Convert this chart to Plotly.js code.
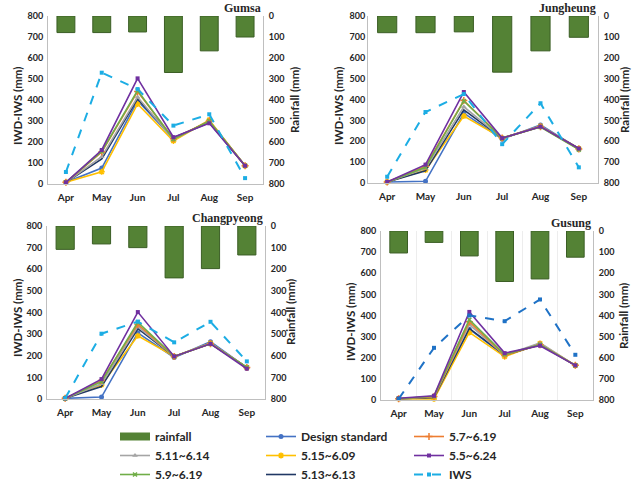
<!DOCTYPE html>
<html>
<head>
<meta charset="utf-8">
<script src="https://cdn.plot.ly/plotly-3.0.1.min.js"></script>
<style>html,body{margin:0;padding:0;background:#fff;}#chart{width:643px;height:492px;}</style>
</head>
<body>
<div id="chart"></div>
<script>
// ---------------- DATA ----------------
const months = ['Apr', 'May', 'Jun', 'Jul', 'Aug', 'Sep'];
const stations = ['Gumsa', 'Jungheung', 'Changpyeong', 'Gusung'];
const seriesNames = ['Design standard', '5.7~6.19', '5.11~6.14', '5.15~6.09', '5.5~6.24', '5.9~6.19', '5.13~6.13', 'IWS'];

// Gumsa
const gumsaRain   = [79, 79, 76, 269, 166, 100];
const gumsaDesign = [8, 76, 397, 215, 298, 87];
const gumsa57     = [8, 152, 440, 216, 300, 87];
const gumsa511    = [8, 130, 414, 212, 300, 87];
const gumsa515    = [8, 58, 381, 205, 305, 87];
const gumsa55     = [8, 162, 503, 223, 289, 87];
const gumsa59     = [8, 155, 445, 213, 300, 87];
const gumsa513    = [8, 119, 405, 220, 293, 87];
const gumsaIWS    = [57, 530, 452, 278, 332, 28];

// Jungheung
const jungRain   = [80, 80, 76, 269, 167, 102];
const jungDesign = [5, 8, 335, 210, 278, 165];
const jung57     = [5, 80, 395, 215, 270, 163];
const jung511    = [5, 70, 365, 215, 272, 163];
const jung515    = [5, 62, 321, 215, 272, 165];
const jung55     = [5, 88, 436, 215, 270, 165];
const jung59     = [5, 75, 393, 215, 268, 160];
const jung513    = [5, 58, 350, 215, 270, 165];
const jungIWS    = [30, 340, 426, 186, 382, 75];

// Changpyeong
const changRain   = [108, 83, 100, 240, 197, 134];
const changDesign = [3, 9, 306, 192, 265, 145];
const chang57     = [3, 85, 345, 197, 256, 146];
const chang511    = [3, 70, 335, 197, 258, 146];
const chang515    = [3, 65, 292, 197, 258, 145];
const chang55     = [3, 92, 402, 197, 255, 140];
const chang59     = [3, 80, 355, 197, 255, 147];
const chang513    = [3, 58, 325, 197, 256, 146];
const changIWS    = [3, 302, 358, 262, 357, 174];

// Gusung
const gusRain   = [104, 54, 118, 239, 227, 124];
const gusDesign = [6, 8, 335, 210, 265, 164];
const gus57     = [6, 16, 370, 212, 262, 164];
const gus511    = [6, 15, 357, 212, 270, 164];
const gus515    = [6, 5, 320, 205, 268, 164];
const gus55     = [8, 20, 417, 222, 257, 164];
const gus59     = [6, 18, 380, 215, 262, 164];
const gus513    = [6, 12, 339, 212, 262, 164];
const gusIWS    = [5, 247, 400, 373, 476, 214];

const leftTicks = [0, 100, 200, 300, 400, 500, 600, 700, 800];

// -------------- STYLE / LAYOUT --------------
const W = 643, H = 492;
const px = v => v / W;
const py = v => 1 - v / H;
const FONT = 'Lato, "Open Sans", sans-serif';

const stationData = [
  {rain: gumsaRain, s: [gumsaDesign, gumsa57, gumsa511, gumsa515, gumsa55, gumsa59, gumsa513, gumsaIWS]},
  {rain: jungRain,  s: [jungDesign, jung57, jung511, jung515, jung55, jung59, jung513, jungIWS]},
  {rain: changRain, s: [changDesign, chang57, chang511, chang515, chang55, chang59, chang513, changIWS]},
  {rain: gusRain,   s: [gusDesign, gus57, gus511, gus515, gus55, gus59, gus513, gusIWS]}
];

// panel frames in pixels: [left, right, top, bottom]
const frames = [
  [48, 263, 16, 184],
  [368, 598, 16, 183],
  [47, 265, 226, 399],
  [381, 593, 231, 400]
];

const styles = [
  {color: '#4472C4', symbol: 'circle', size: 5, legend: 'legend2'},          // Design standard
  {color: '#ED7D31', symbol: 'cross-thin', size: 5, legend: 'legend3'},      // 5.7~6.19
  {color: '#A5A5A5', symbol: 'triangle-up', size: 5, legend: 'legend'},      // 5.11~6.14
  {color: '#FFC000', symbol: 'asterisk', size: 5, legend: 'legend2'},        // 5.15~6.09
  {color: '#7030A0', symbol: 'square', size: 4, legend: 'legend3'},          // 5.5~6.24
  {color: '#70AD47', symbol: 'x-thin', size: 4, legend: 'legend'},           // 5.9~6.19
  {color: '#203864', symbol: 'circle', size: 0, legend: 'legend2'},          // 5.13~6.13
  {color: '#1CADE4', symbol: 'square', size: 4, legend: 'legend3'}           // IWS
];
const drawOrder = [0, 3, 6, 2, 1, 5, 4, 7];

const traces = [];
const layout = {
  width: W, height: H,
  margin: {l: 0, r: 0, t: 0, b: 0},
  paper_bgcolor: '#fff', plot_bgcolor: 'rgba(0,0,0,0)',
  font: {family: FONT, color: '#262626'},
  showlegend: true,
  barmode: 'overlay',
  annotations: [],
  shapes: []
};

// legend proxy for the rainfall bars (wide bar swatch); draws no mark
traces.push({
  type: 'scatter', mode: 'lines', x: [null], y: [null],
  name: 'rainfall', legend: 'legend', showlegend: true,
  line: {color: '#548235', width: 8}, hoverinfo: 'skip'
});

stationData.forEach((st, i) => {
  const [l, r, t, b] = frames[i];
  const xa = i === 0 ? 'xaxis' : 'xaxis' + (i + 1);
  const yl = 'yaxis' + (i === 0 ? '' : (2 * i + 1));
  const yr = 'yaxis' + (2 * i + 2);
  const xid = 'x' + (i === 0 ? '' : (i + 1));
  const ylid = 'y' + (i === 0 ? '' : (2 * i + 1));
  const yrid = 'y' + (2 * i + 2);

  layout[xa] = {
    domain: [px(l), px(r)], anchor: ylid,
    type: 'category', categoryorder: 'array', categoryarray: months,
    showline: true, linecolor: '#BFBFBF', linewidth: 1,
    showgrid: i === 3, gridcolor: '#EDEDED', tickson: 'boundaries',
    ticks: '', zeroline: false, ticklabelstandoff: 4,
    tickfont: {family: FONT, size: 10, weight: 700, color: '#262626'}
  };
  layout[yl] = {
    domain: [py(b), py(t)], anchor: xid,
    range: [0, 800], tickvals: leftTicks,
    showline: true, linecolor: '#BFBFBF', linewidth: 1,
    showgrid: false, zeroline: false, ticks: '',
    ticklabelstandoff: i === 1 ? 0 : 2,
    tickfont: {family: FONT, size: 9, weight: 700, color: '#262626'}
  };
  layout[yr] = {
    overlaying: ylid, side: 'right', anchor: xid,
    range: [800, 0], tickvals: leftTicks,
    showline: true, linecolor: '#BFBFBF', linewidth: 1,
    showgrid: false, zeroline: false, ticks: '', ticklabelstandoff: 3,
    tickfont: {family: FONT, size: 9, weight: 700, color: '#262626'}
  };

  traces.push({
    type: 'bar', x: months, y: st.rain, base: 0,
    xaxis: xid, yaxis: yrid, width: 0.5,
    name: 'rainfall', showlegend: false,
    marker: {color: '#548235', line: {color: '#3B5E25', width: 1}},
    hoverinfo: 'skip'
  });

  drawOrder.forEach(k => {
    const s = styles[k];
    const iws = k === 7;
    const col = iws && i === 3 ? '#1F72C6' : s.color;
    traces.push({
      type: 'scatter', mode: s.size ? 'lines+markers' : 'lines',
      x: months, y: st.s[k], xaxis: xid, yaxis: ylid,
      name: seriesNames[k], legend: s.legend, showlegend: i === 0,
      line: {color: col, width: iws ? 2 : 1.6, dash: iws ? 'dash' : 'solid'},
      marker: {color: col, symbol: s.symbol, size: s.size,
               line: {color: col, width: (s.symbol.indexOf('thin') >= 0 || s.symbol === 'asterisk') ? 1.5 : 0}},
      cliponaxis: false, hoverinfo: 'skip'
    });
  });

  layout.annotations.push({
    xref: 'paper', yref: 'paper', x: px(r), y: py(t - 8),
    xanchor: 'right', yanchor: 'middle', showarrow: false,
    text: '<b>' + stations[i] + '</b>',
    font: {family: '"Liberation Serif", "DejaVu Serif", serif', size: 12, color: '#262626'}
  });
});

const axisTitles = [
  [17, 294, 100], [338, 624, 100], [17, 290, 312], [350, 623, 316]
];
axisTitles.forEach(([xl, xr, yc]) => {
  layout.annotations.push({
    xref: 'paper', yref: 'paper', x: px(xl), y: py(yc + 6), textangle: -90,
    xanchor: 'center', yanchor: 'middle', showarrow: false,
    text: '<b>IWD-IWS (mm)</b>', font: {family: FONT, size: 11.5, color: '#262626'}
  });
  layout.annotations.push({
    xref: 'paper', yref: 'paper', x: px(xr), y: py(yc), textangle: -90,
    xanchor: 'center', yanchor: 'middle', showarrow: false,
    text: '<b>Rainfall (mm)</b>', font: {family: FONT, size: 11.5, color: '#262626'}
  });
});

const legBase = {
  orientation: 'v', yanchor: 'top', xanchor: 'left',
  bgcolor: 'rgba(0,0,0,0)', borderwidth: 0, tracegroupgap: 0,
  traceorder: 'normal', itemwidth: 30,
  font: {family: FONT, size: 12, weight: 700, color: '#262626'}
};
layout.legend  = Object.assign({}, legBase, {x: px(115), y: py(422)});
layout.legend2 = Object.assign({}, legBase, {x: px(261), y: py(422)});
layout.legend3 = Object.assign({}, legBase, {x: px(409), y: py(422)});

Plotly.newPlot('chart', traces, layout, {staticPlot: true, displayModeBar: false});
</script>
</body>
</html>
